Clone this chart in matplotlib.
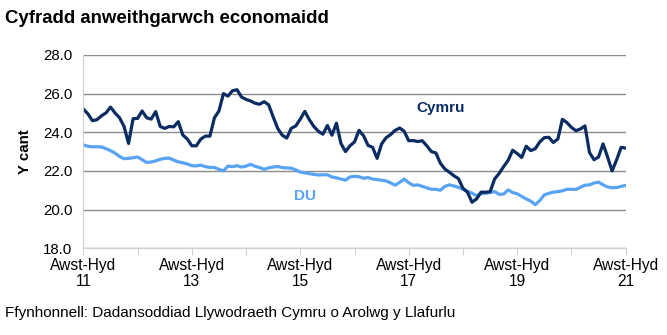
import matplotlib.pyplot as plt
import numpy as np

plt.rcParams['font.family'] = ['Liberation Sans', 'DejaVu Sans']

# cyfraddau misol (treigl 3 mis), Awst-Hyd 2011 i Awst-Hyd 2021
cymru = [25.2, 24.95, 24.6, 24.65, 24.85, 25.0, 25.3, 25.0, 24.75, 24.3,
         23.42, 24.7, 24.72, 25.1, 24.75, 24.68, 25.07, 24.3, 24.2, 24.3,
         24.28, 24.55, 23.86, 23.65, 23.3, 23.3, 23.65, 23.8, 23.8, 24.75,
         25.1, 26.0, 25.87, 26.15, 26.2, 25.82, 25.7, 25.62, 25.5, 25.45,
         25.58, 25.42, 24.8, 24.2, 23.85, 23.7, 24.2, 24.33, 24.68, 25.08,
         24.65, 24.3, 24.05, 23.9, 24.35, 23.85, 24.47, 23.42, 23.0, 23.3,
         23.5, 24.1, 23.82, 23.32, 23.22, 22.65, 23.4, 23.72, 23.88, 24.1,
         24.22, 24.05, 23.56, 23.57, 23.52, 23.56, 23.3, 23.0, 22.93, 22.4,
         22.1, 21.93, 21.75, 21.6, 21.1, 20.9, 20.38, 20.55, 20.9, 20.9,
         20.92, 21.58, 21.87, 22.22, 22.55, 23.07, 22.9, 22.7, 23.28, 23.05,
         23.15, 23.5, 23.72, 23.74, 23.47, 23.65, 24.67, 24.5, 24.25, 24.08,
         24.17, 24.33, 22.95, 22.58, 22.72, 23.4, 22.72, 22.0, 22.57, 23.22,
         23.18]
du = [23.35, 23.27, 23.25, 23.25, 23.24, 23.15, 23.05, 22.92, 22.75, 22.63,
      22.65, 22.68, 22.72, 22.58, 22.44, 22.46, 22.52, 22.6, 22.65, 22.66,
      22.56, 22.47, 22.42, 22.36, 22.27, 22.26, 22.3, 22.22, 22.18, 22.18,
      22.08, 22.0, 22.25, 22.22, 22.27, 22.2, 22.25, 22.34, 22.24, 22.17,
      22.08, 22.16, 22.2, 22.23, 22.17, 22.16, 22.14, 22.05, 21.94, 21.9,
      21.86, 21.82, 21.79, 21.8, 21.8, 21.69, 21.64, 21.58, 21.52, 21.69,
      21.72, 21.7, 21.62, 21.66, 21.58, 21.55, 21.52, 21.48, 21.38, 21.26,
      21.41, 21.58, 21.39, 21.25, 21.28, 21.2, 21.12, 21.05, 21.05, 21.0,
      21.2, 21.28, 21.22, 21.15, 21.05, 20.95, 20.85, 20.72, 20.82, 20.84,
      20.88, 20.93, 20.79, 20.8, 21.02, 20.88, 20.82, 20.68, 20.55, 20.44,
      20.25, 20.47, 20.76, 20.84, 20.9, 20.93, 20.97, 21.05, 21.05, 21.04,
      21.16, 21.26, 21.28, 21.37, 21.42, 21.28, 21.17, 21.13, 21.14, 21.2,
      21.25]
tick_labels = ['Awst-Hyd\n11', 'Awst-Hyd\n13', 'Awst-Hyd\n15',
               'Awst-Hyd\n17', 'Awst-Hyd\n19', 'Awst-Hyd\n21']

navy = '#0a2c62'
light = '#58a3f3'
grid = '#8c8c8c'

x = np.arange(len(cymru))

fig = plt.figure(figsize=(6.67, 3.35), dpi=100)
ax = fig.add_axes([0.125, 0.259, 0.813, 0.577])

ax.plot(x, du, color=light, lw=2.3, solid_joinstyle='round')
ax.plot(x, cymru, color=navy, lw=2.3, solid_joinstyle='round')

ax.set_xlim(0, len(cymru) - 1)
ax.set_ylim(18, 28)
ax.set_yticks(np.arange(18, 28.1, 2))
ax.set_yticklabels(['%.1f' % v for v in np.arange(18, 28.1, 2)], fontsize=10.8)
ax.yaxis.grid(True, color=grid, lw=1)
ax.set_axisbelow(True)
ax.tick_params(axis='y', length=0, pad=8)

# marciau bob blwyddyn, labeli bob dwy flynedd
ax.set_xticks(np.arange(0, len(cymru), 12))
ax.set_xticklabels(['' if i % 2 else tick_labels[i // 2] for i in range(11)],
                   fontsize=11.2, linespacing=1.1)
ax.tick_params(axis='x', length=5, color='#d0d0d0', pad=2)

for s in ['top', 'right']:
    ax.spines[s].set_visible(False)
ax.spines['left'].set_color('#d0d0d0')
ax.spines['bottom'].set_color('#d0d0d0')

ax.set_ylabel('Y cant', fontsize=10.8, fontweight='bold', labelpad=8)

ax.text(79, 25.25, 'Cymru', color=navy, fontsize=11, fontweight='bold',
        ha='center', va='center')
ax.text(49, 20.7, 'DU', color=light, fontsize=11, fontweight='bold',
        ha='center', va='center')

fig.text(0.008, 0.945, 'Cyfradd anweithgarwch economaidd', fontsize=13.4,
         fontweight='bold', va='center')
fig.text(0.008, 0.065, 'Ffynhonnell: Dadansoddiad Llywodraeth Cymru o Arolwg y Llafurlu',
         fontsize=11, va='center')

fig.savefig('out.png', dpi=100)
